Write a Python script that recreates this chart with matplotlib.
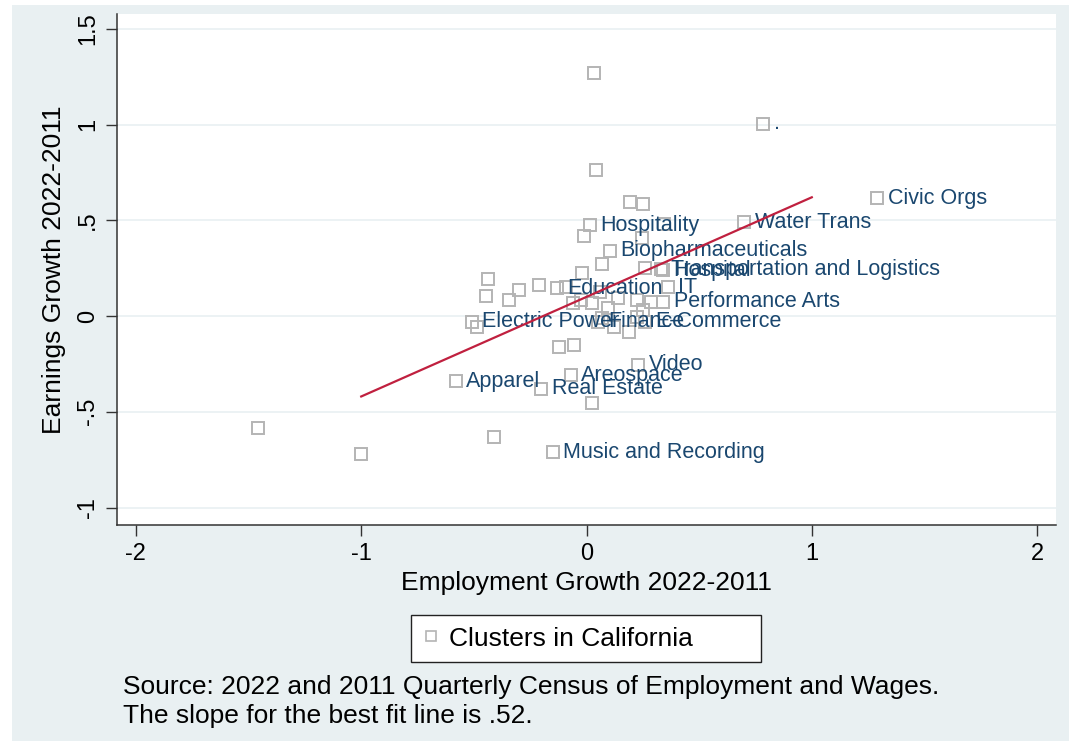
import matplotlib
matplotlib.use("Agg")
import matplotlib.pyplot as plt
from matplotlib.lines import Line2D
from matplotlib.patches import Rectangle

plt.rcParams["font.family"] = ["Liberation Sans", "DejaVu Sans"]

# labelled clusters: employment growth, earnings growth
labels = ["Civic Orgs", "Water Trans", ".", "Hospitality", "Biopharmaceuticals",
          "Transportation and Logistics", "Hospital", "Education", "IT",
          "Performance Arts", "Electric Power", "Finance", "E-Commerce", "Video",
          "Areospace", "Apparel", "Real Estate", "Music and Recording"]
label_emp = [1.29, 0.70, 0.785, 0.015, 0.105, 0.33, 0.34, -0.13, 0.36,
             0.34, -0.51, 0.05, 0.26, 0.23, -0.07, -0.58, -0.20, -0.15]
label_earn = [0.615, 0.49, 1.005, 0.475, 0.34, 0.245, 0.24, 0.145, 0.15,
              0.075, -0.03, -0.03, -0.03, -0.255, -0.31, -0.34, -0.38, -0.71]

# remaining clusters, drawn without text
other_emp = [0.035, 0.04, 0.195, 0.25, -0.01, 0.345, 0.245, 0.07, -0.02, 0.26,
             -0.435, -0.445, -0.345, -0.30, -0.21, -0.09, -0.06, 0.025, 0.06,
             0.095, 0.14, 0.225, 0.25, 0.285, 0.07, 0.225, 0.12, 0.19, -0.485,
             -0.12, -0.055, 0.025, -1.46, -1.0, -0.41, -0.025]
other_earn = [1.27, 0.76, 0.595, 0.585, 0.42, 0.48, 0.41, 0.27, 0.225, 0.25,
              0.195, 0.105, 0.085, 0.135, 0.16, 0.15, 0.07, 0.07, 0.125,
              0.04, 0.095, 0.085, 0.03, 0.075, -0.01, -0.005, -0.055, -0.085,
              -0.055, -0.16, -0.15, -0.455, -0.585, -0.72, -0.63, 0.085]

# best fit line
fit_slope = 0.52
fit_intercept = 0.10
fit_range = [-1.0, 1.0]

x_ticks = [-2, -1, 0, 1, 2]
x_ticklabels = ["-2", "-1", "0", "1", "2"]
y_ticks = [-1, -0.5, 0, 0.5, 1, 1.5]
y_ticklabels = ["-1", "-.5", "0", ".5", "1", "1.5"]

BG = "#e9f0f2"
MARKER = "#b4b4b4"
NAVY = "#1a476f"
W, H = 1069, 741

fig = plt.figure(figsize=(W / 100, H / 100), dpi=100)
fig.patch.set_facecolor("white")
fig.patches.append(Rectangle((12 / W, 0), 1, 1 - 5 / H, transform=fig.transFigure,
                             facecolor=BG, edgecolor="none", zorder=-10))

ax = fig.add_axes([117 / W, 1 - 525 / H, 939 / W, 511 / H])
ax.set_facecolor("white")

all_emp = other_emp + label_emp
all_earn = other_earn + label_earn
ax.plot(all_emp, all_earn, linestyle="none", marker="s", markersize=9,
        markerfacecolor="none", markeredgecolor=MARKER, markeredgewidth=1.4, zorder=3)

for name, x, y in zip(labels, label_emp, label_earn):
    ax.annotate(name, (x, y), xytext=(7.5, 0), textcoords="offset points",
                ha="left", va="center", color=NAVY, fontsize=15.5, zorder=4)

fx = fit_range
fy = [fit_intercept + fit_slope * v for v in fx]
ax.plot(fx, fy, color="#c0203f", linewidth=1.6, zorder=5)

ax.set_xlim(-2.084, 2.084)
ax.set_ylim(-1.091, 1.577)
ax.set_xticks(x_ticks)
ax.set_xticklabels(x_ticklabels)
ax.set_yticks(y_ticks)
ax.set_yticklabels(y_ticklabels, rotation=90, va="center")
ax.tick_params(direction="out", length=8, width=1, labelsize=17, color="#333333", pad=5)
ax.grid(axis="y", color=BG, linewidth=1.2)
ax.set_axisbelow(True)
for side in ["top", "right"]:
    ax.spines[side].set_visible(False)
for side in ["left", "bottom"]:
    ax.spines[side].set_color("#333333")
    ax.spines[side].set_linewidth(1.1)

ax.set_xlabel("Employment Growth 2022-2011", fontsize=19, labelpad=4)
ax.set_ylabel("Earnings Growth 2022-2011", fontsize=19, labelpad=8)

handle = Line2D([], [], linestyle="none", marker="s", markersize=7,
                markerfacecolor="none", markeredgecolor=MARKER, markeredgewidth=1.2)
fig.legend([handle], ["Clusters in California"], loc="center", mode="expand",
           bbox_to_anchor=(411 / W, 1 - 662 / H, 350 / W, 47 / H),
           prop={"size": 19}, frameon=True, fancybox=False,
           edgecolor="#222222", framealpha=1, borderpad=0.45, handlelength=0.6,
           handletextpad=0.4, borderaxespad=0)

fig.text(123 / W, 1 - 687 / H, "Source: 2022 and 2011 Quarterly Census of Employment and Wages.",
         fontsize=19, va="center", ha="left")
fig.text(123 / W, 1 - 716 / H, "The slope for the best fit line is .52.",
         fontsize=19, va="center", ha="left")

fig.savefig("out.png", dpi=100, facecolor=fig.get_facecolor())
